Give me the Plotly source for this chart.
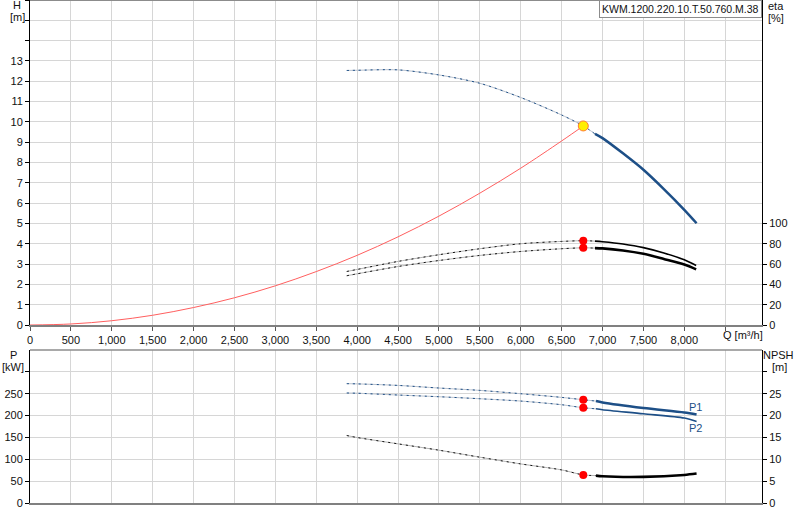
import plotly.graph_objects as go

# ---------------- data ----------------
# Pump head curve H [m]
q_h_dash = [3873, 4000, 4500, 5000, 5500, 6000, 6500, 6765, 6908]
h_dash = [12.53, 12.54, 12.56, 12.31, 11.9, 11.2, 10.34, 9.8, 9.41]
q_h_solid = [6908, 7000, 7250, 7500, 7750, 8000, 8150]
h_solid = [9.41, 9.2, 8.45, 7.64, 6.69, 5.67, 5.01]

# System curve H [m]
q_sys = [0, 500, 1000, 1500, 2000, 2500, 3000, 3500, 4000, 4500, 5000, 5500, 6000, 6500, 6765]
h_sys = [0, 0.05, 0.21, 0.48, 0.86, 1.34, 1.93, 2.63, 3.43, 4.34, 5.36, 6.49, 7.72, 9.06, 9.8]

# Efficiency curves eta [%]
q_eta_dash = [3873, 4000, 4500, 5000, 5500, 6000, 6500, 6765, 6908]
eta1_dash = [52.7, 54.7, 62.6, 69.2, 75.1, 80.0, 82.3, 83.0, 82.6]
eta2_dash = [48.5, 50.4, 57.6, 63.5, 68.5, 72.4, 75.1, 76.0, 75.7]
q_eta_solid = [6908, 7000, 7250, 7500, 7750, 8000, 8145]
eta1_solid = [82.6, 82.0, 79.7, 76.2, 70.9, 64.2, 58.6]
eta2_solid = [75.7, 75.4, 73.4, 70.1, 65.0, 59.5, 54.8]

# Power P [kW]
q_p_dash = [3873, 4000, 4500, 5000, 5500, 6000, 6500, 6765, 6920]
p1_dash = [273.0, 272.5, 269.0, 263.0, 257.6, 250.0, 241.6, 236.2, 233.2]
p2_dash = [251.6, 251.1, 247.0, 243.1, 238.5, 233.2, 224.8, 217.9, 215.5]
q_p_solid = [6920, 7000, 7500, 8000, 8150]
p1_solid = [233.2, 230.0, 217.2, 207.1, 202.5]
p2_solid = [215.5, 213.3, 204.1, 194.3, 186.5]

# NPSH [m]
q_n_dash = [3873, 4000, 4500, 5000, 5500, 6000, 6500, 6765, 6920]
npsh_dash = [15.44, 14.98, 13.53, 12.08, 10.48, 8.94, 7.57, 6.42, 6.27]
q_n_solid = [6920, 7000, 7500, 8000, 8150]
npsh_solid = [6.27, 6.12, 5.98, 6.42, 6.73]

# Operating point
q_op = [6765]
h_op = [9.8]
eta_op = [83.0, 76.0]
p_op = [236.2, 217.9]
npsh_op = [6.42]

x_ticks = list(range(0, 9000, 500))
x_labels = [f"{v:,}" if v <= 8000 else "" for v in x_ticks]
h_ticks = list(range(0, 17))
h_labels = [str(v) if v <= 13 else "" for v in h_ticks]
eta_ticks = [0, 20, 40, 60, 80, 100]
p_ticks = [0, 50, 100, 150, 200, 250, 300]
p_labels = ["0", "50", "100", "150", "200", "250", ""]
n_ticks = [0, 5, 10, 15, 20, 25, 30]
n_labels = ["0", "5", "10", "15", "20", "25", ""]

# ---------------- styles ----------------
BLUE = "#1d4f87"
BLUE_BASE = "#b9c2cf"
GRAY_BASE = "#b4b4b4"
GRID = "#d6d6d6"
FONT = "Liberation Sans"

W, H = 800, 520
ML, MR, MT, MB = 30, 38, 0, 17
PH = H - MT - MB
TOP_DOM = [(PH - 325) / PH, 1.0]
BOT_DOM = [0.0, (PH - 350) / PH]
XR = [0, 8950]


def px_x(px):
    return (px - ML) / (W - ML - MR)


def px_y(py):
    return (PH - (py - MT)) / PH


fig = go.Figure()


def dashed(x, y, xa, ya, dark, base):
    fig.add_trace(go.Scatter(x=x, y=y, xaxis=xa, yaxis=ya, mode="lines",
                             line=dict(color=base, width=1, shape="spline", smoothing=0.8),
                             hoverinfo="skip"))
    fig.add_trace(go.Scatter(x=x, y=y, xaxis=xa, yaxis=ya, mode="lines",
                             line=dict(color=dark, width=1, dash="2px,4px", shape="spline",
                                       smoothing=0.8),
                             hoverinfo="skip"))


def solid(x, y, xa, ya, color, width):
    fig.add_trace(go.Scatter(x=x, y=y, xaxis=xa, yaxis=ya, mode="lines",
                             line=dict(color=color, width=width, shape="spline", smoothing=0.8),
                             hoverinfo="skip"))


# system curve
fig.add_trace(go.Scatter(x=q_sys, y=h_sys, xaxis="x", yaxis="y", mode="lines",
                         line=dict(color="rgb(255,95,95)", width=1, shape="spline"), hoverinfo="skip"))
# H curve
dashed(q_h_dash, h_dash, "x", "y", BLUE, BLUE_BASE)
solid(q_h_solid, h_solid, "x", "y", BLUE, 2.5)
# eta curves
dashed(q_eta_dash, eta1_dash, "x", "y2", "#111111", GRAY_BASE)
dashed(q_eta_dash, eta2_dash, "x", "y2", "#111111", GRAY_BASE)
solid(q_eta_solid, eta1_solid, "x", "y2", "#000000", 1.6)
solid(q_eta_solid, eta2_solid, "x", "y2", "#000000", 2.6)
fig.add_trace(go.Scatter(x=q_op * 2, y=eta_op, xaxis="x", yaxis="y2", mode="markers",
                         marker=dict(color="#ff0000", size=8), hoverinfo="skip"))
fig.add_trace(go.Scatter(x=q_op, y=h_op, xaxis="x", yaxis="y", mode="markers",
                         marker=dict(color="#ffee00", size=10, line=dict(color="#ff7a30", width=1)),
                         hoverinfo="skip"))

# P curves
dashed(q_p_dash, p1_dash, "x2", "y3", BLUE, BLUE_BASE)
dashed(q_p_dash, p2_dash, "x2", "y3", BLUE, BLUE_BASE)
solid(q_p_solid, p1_solid, "x2", "y3", BLUE, 2.6)
solid(q_p_solid, p2_solid, "x2", "y3", BLUE, 1.6)
fig.add_trace(go.Scatter(x=q_op * 2, y=p_op, xaxis="x2", yaxis="y3", mode="markers",
                         marker=dict(color="#ff0000", size=8), hoverinfo="skip"))
# NPSH
dashed(q_n_dash, npsh_dash, "x2", "y4", "#111111", GRAY_BASE)
solid(q_n_solid, npsh_solid, "x2", "y4", "#000000", 2.6)
fig.add_trace(go.Scatter(x=q_op, y=npsh_op, xaxis="x2", yaxis="y4", mode="markers",
                         marker=dict(color="#ff0000", size=8), hoverinfo="skip"))

tickfont = dict(family=FONT, size=11, color="#111111")

fig.update_layout(
    width=W, height=H, margin=dict(l=ML, r=MR, t=MT, b=MB, autoexpand=False),
    paper_bgcolor="white", plot_bgcolor="white", showlegend=False,
    font=dict(family=FONT, size=11, color="#111111"),
    xaxis=dict(domain=[0, 1], anchor="y", range=XR, tickvals=x_ticks, ticktext=x_labels,
               showgrid=True, gridcolor=GRID, gridwidth=1, zeroline=False, automargin=False,
               showline=True, linecolor="#808080", linewidth=2,
               ticks="outside", ticklen=4, tickcolor="#555555", tickfont=tickfont),
    yaxis=dict(domain=TOP_DOM, anchor="x", range=[0, 16], tickvals=h_ticks, ticktext=h_labels,
               showgrid=True, gridcolor=GRID, gridwidth=1, zeroline=False, automargin=False,
               showline=True, linecolor="#000000", linewidth=1,
               ticks="outside", ticklen=4, tickcolor="#000000", tickfont=tickfont),
    yaxis2=dict(overlaying="y", side="right", anchor="x", range=[0, 320], tickvals=eta_ticks,
                showgrid=False, zeroline=False, showline=True, linecolor="#000000", linewidth=1,
                automargin=False,
                ticks="outside", ticklen=4, tickcolor="#000000", tickfont=tickfont),
    xaxis2=dict(domain=[0, 1], anchor="y3", range=XR, tickvals=x_ticks, showticklabels=False,
                showgrid=True, gridcolor=GRID, gridwidth=1, zeroline=False, automargin=False,
                showline=True, linecolor="#808080", linewidth=2, ticks=""),
    yaxis3=dict(domain=BOT_DOM, anchor="x2", range=[0, 350], tickvals=p_ticks, ticktext=p_labels,
                showgrid=True, gridcolor=GRID, gridwidth=1, zeroline=False, automargin=False,
                showline=True, linecolor="#000000", linewidth=1,
                ticks="outside", ticklen=4, tickcolor="#000000", tickfont=tickfont),
    yaxis4=dict(overlaying="y3", side="right", anchor="x2", range=[0, 35], tickvals=n_ticks,
                ticktext=n_labels, showgrid=False, zeroline=False, automargin=False,
                showline=True, linecolor="#000000", linewidth=1,
                ticks="outside", ticklen=4, tickcolor="#000000", tickfont=tickfont),
)

# top borders
fig.add_shape(type="line", xref="paper", yref="paper", x0=0, x1=1, y0=1, y1=1,
              line=dict(color="#8c8c8c", width=2))
fig.add_shape(type="line", xref="paper", yref="paper", x0=0, x1=1, y0=BOT_DOM[1], y1=BOT_DOM[1],
              line=dict(color="#8c8c8c", width=1.5))

lab = dict(family=FONT, size=11, color="#111111")
ann = [
    ("H", 17, 5, "center"), ("[m]", 17, 17, "center"),
    ("eta", 767, 6, "left"), ("[%]", 767, 18, "left"),
    ("Q [m³/h]", 722, 335, "left"),
    ("P", 13, 355, "center"), ("[kW]", 13, 367, "center"),
    ("NPSH", 778, 355, "center"), ("[m]", 780, 367, "center"),
]
for text, ax, ay, anc in ann:
    fig.add_annotation(xref="paper", yref="paper", x=px_x(ax), y=px_y(ay), text=text,
                       xanchor=anc, yanchor="middle", showarrow=False, font=lab, borderpad=0)

fig.add_annotation(xref="paper", yref="paper", x=1.0, y=1.0, xanchor="right", yanchor="top",
                   text="KWM.1200.220.10.T.50.760.M.38", showarrow=False,
                   font=dict(family=FONT, size=10.5, color="#111111"),
                   bgcolor="white", bordercolor="#8c8c8c", borderwidth=1, borderpad=2)

for text, ax, ay in [("P1", 695.5, 407), ("P2", 695.5, 428)]:
    fig.add_annotation(xref="paper", yref="paper", x=px_x(ax), y=px_y(ay), text=text,
                       xanchor="center", yanchor="middle", showarrow=False,
                       font=dict(family=FONT, size=11, color=BLUE))

fig.write_html("out.html", config={"displayModeBar": False},
               post_script="document.body.style.margin='0';document.body.style.overflow='hidden';")
